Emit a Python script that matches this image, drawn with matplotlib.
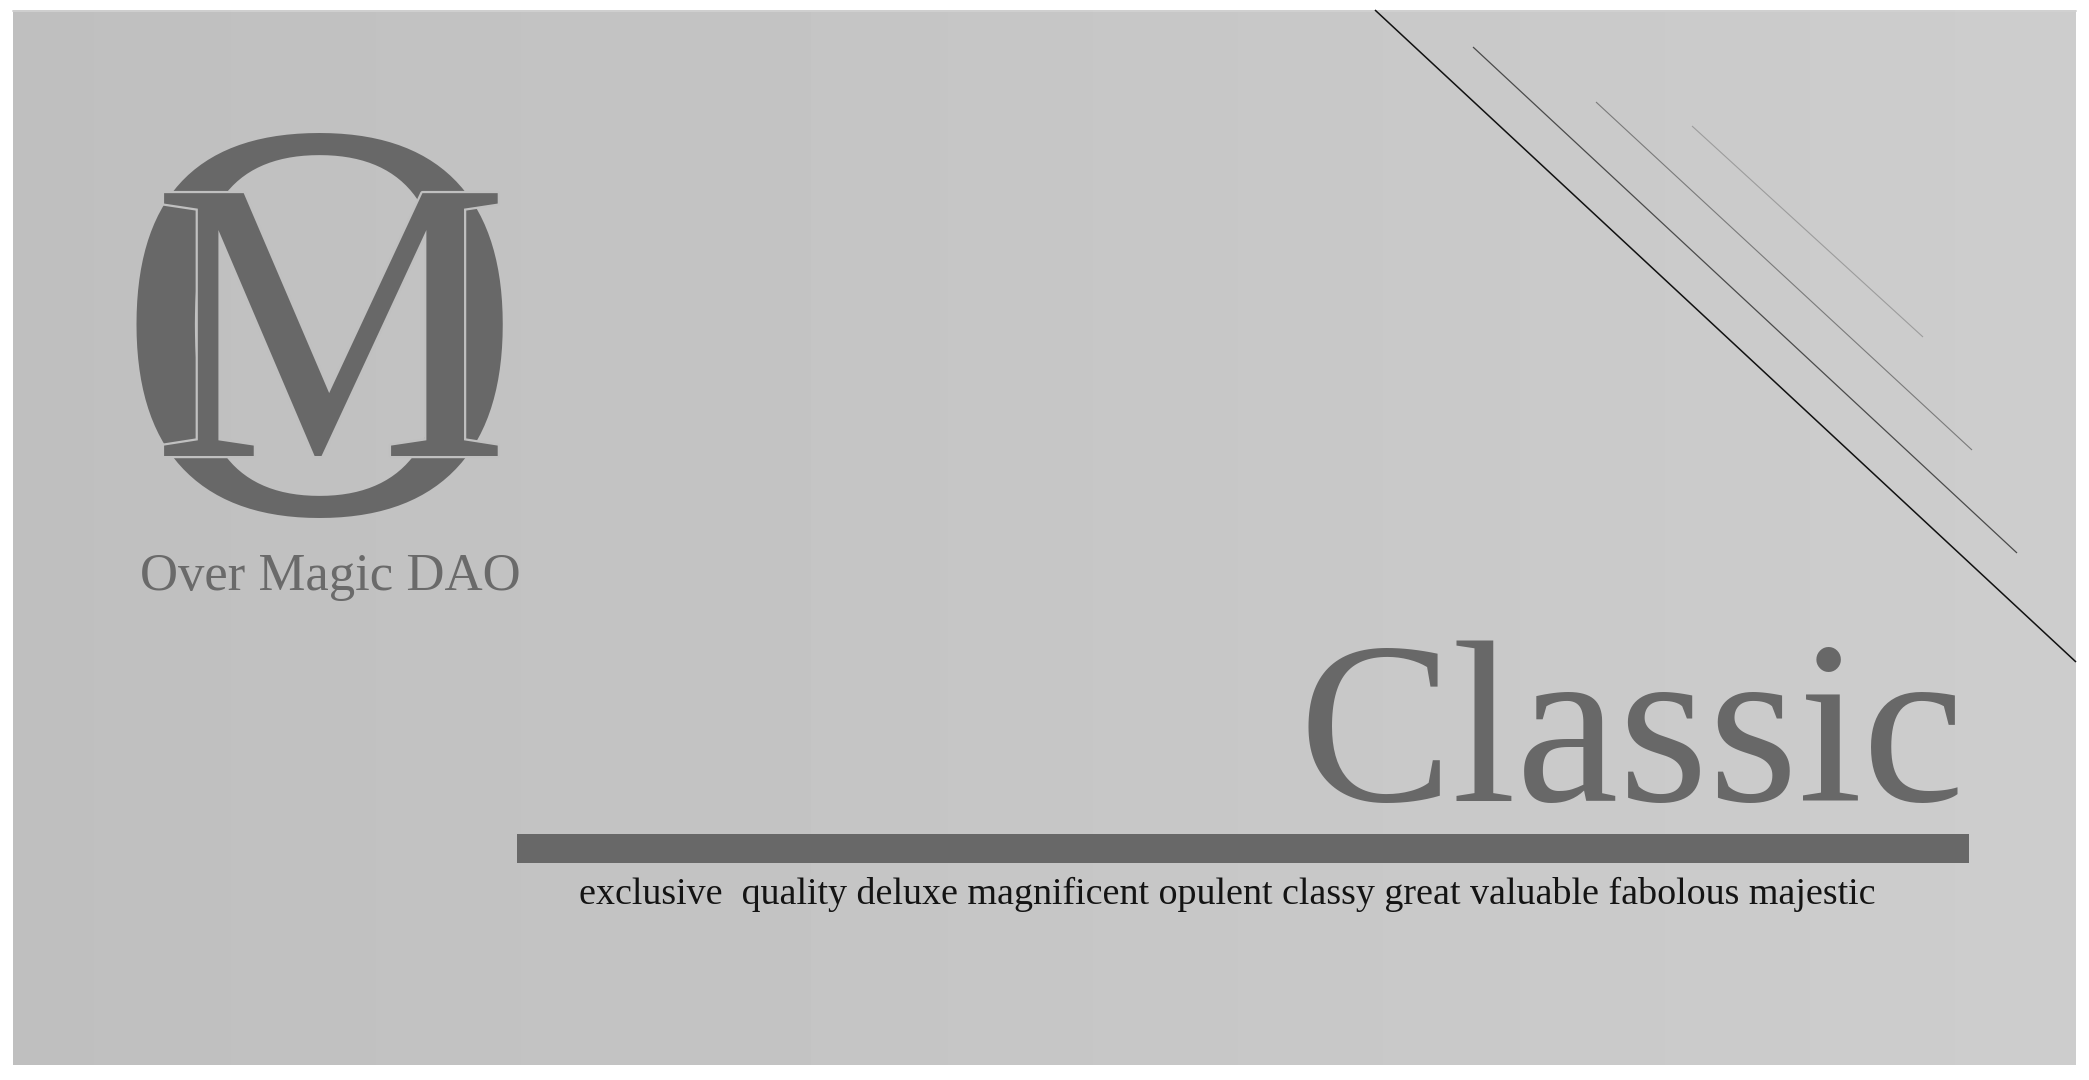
import numpy as np
import matplotlib.pyplot as plt
import matplotlib.patheffects as pe
from matplotlib.patches import Rectangle

W, H = 2089, 1080
SERIF = ['Liberation Serif', 'DejaVu Serif']

# text content
brand = "Over Magic DAO"
title = "Classic"
tagline_words = ["exclusive ", "quality", "deluxe", "magnificent", "opulent",
                 "classy", "great", "valuable", "fabolous", "majestic"]

# panel and colours
panel_box = (13, 10, 2076, 1065)        # x0, y0, x1, y1 in pixels (y down)
panel_left, panel_right = 0.748, 0.804  # grey levels of the gradient
logo_grey = '#686868'

# diagonal strokes in the top right corner
diag_x0 = [1375, 1473, 1596, 1692]
diag_y0 = [10, 47, 102, 126]
diag_x1 = [2076, 2017, 1972, 1923]
diag_y1 = [662, 553, 450, 337]
diag_col = ['#111111', '#4a4a4a', '#7a7a7a', '#9c9c9c']
diag_lw = [1.1, 0.9, 0.8, 0.8]

# rule under the title
bar_box = (517, 834, 1969, 863)


def fit_width(txt, target, fig):
    # rescale font so the drawn width matches the reference
    r = fig.canvas.get_renderer()
    w = txt.get_window_extent(r).width
    txt.set_fontsize(txt.get_fontsize() * target / w)


def main():
    fig = plt.figure(figsize=(W / 100, H / 100), dpi=100)
    fig.patch.set_facecolor('white')
    ax = fig.add_axes([0, 0, 1, 1])
    ax.set_xlim(0, W)
    ax.set_ylim(H, 0)
    ax.axis('off')

    # background panel with a soft left-to-right gradient
    x0, y0, x1, y1 = panel_box
    grad = np.linspace(panel_left, panel_right, 256)[None, :]
    ax.imshow(grad, cmap='gray', vmin=0, vmax=1, aspect='auto',
              extent=(x0, x1, y1, y0), zorder=0)
    ax.plot([x0, x1], [y0 + 0.5, y0 + 0.5], color='#d2d2d2', lw=1.2, zorder=1)

    # logo: big O with an M laid over it
    ax.text(319, 512, "O", family=SERIF, fontsize=412, color=logo_grey,
            ha='center', va='baseline', zorder=2)
    m = ax.text(331, 456, "M", family=SERIF, fontsize=289, color=logo_grey,
                ha='center', va='baseline', zorder=3)
    m.set_path_effects([pe.withStroke(linewidth=3.2, foreground='#c0c0c0')])

    ax.text(330, 590, brand, family=SERIF, fontsize=38, color='#6a6a6a',
            ha='center', va='baseline', zorder=3)

    # title and rule
    t = ax.text(1965, 801, title, family=SERIF, fontsize=170, color=logo_grey,
                ha='right', va='baseline', zorder=3)
    bx0, by0, bx1, by1 = bar_box
    ax.add_patch(Rectangle((bx0, by0), bx1 - bx0, by1 - by0,
                           facecolor=logo_grey, edgecolor='none', zorder=3))

    tag = ax.text(579, 904, " ".join(tagline_words), family=SERIF, fontsize=29,
                  color='#141414', ha='left', va='baseline', zorder=3)

    fit_width(t, 666, fig)
    fit_width(tag, 1297, fig)

    for xa, ya, xb, yb, c, lw in zip(diag_x0, diag_y0, diag_x1, diag_y1,
                                     diag_col, diag_lw):
        ax.plot([xa, xb], [ya, yb], color=c, lw=lw, solid_capstyle='butt',
                zorder=2)

    fig.savefig('out.png', dpi=100, facecolor='white')


if __name__ == "__main__":
    main()
